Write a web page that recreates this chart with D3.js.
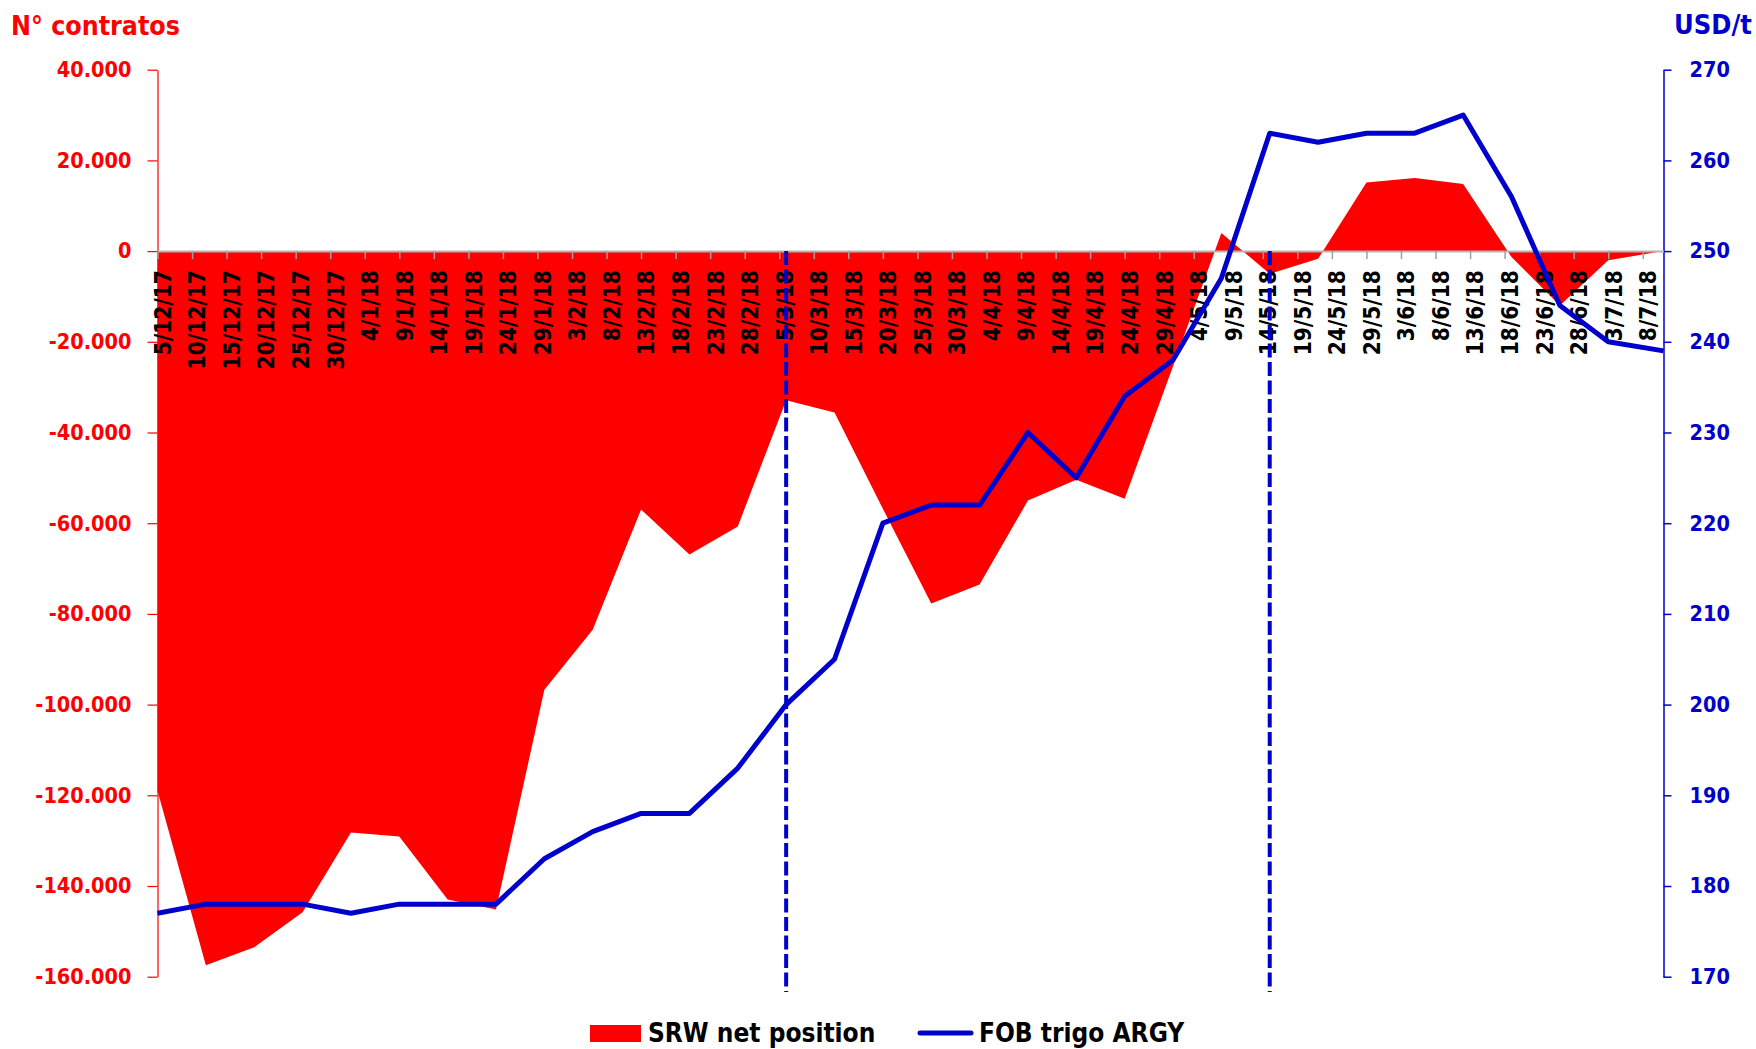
<!DOCTYPE html>
<html>
<head>
    <meta charset="utf-8">
    <title>SRW net position vs FOB trigo ARGY</title>
    <script src="https://d3js.org/d3.v7.min.js"></script>
    <style>
        body {
            margin: 0;
            background-color: #fff;
        }

        svg text {
            font-family: "DejaVu Sans Condensed", "DejaVu Sans", sans-serif;
            font-stretch: condensed;
            font-weight: bold;
        }
    </style>
</head>
<body>
    <svg width="1756" height="1049"></svg>

    <script>
        // weekly observation dates (last one is a Wednesday)
        var dates = [
            "2017-12-05", "2017-12-12", "2017-12-19", "2017-12-26",
            "2018-01-02", "2018-01-09", "2018-01-16", "2018-01-23", "2018-01-30",
            "2018-02-06", "2018-02-13", "2018-02-20", "2018-02-27",
            "2018-03-06", "2018-03-13", "2018-03-20", "2018-03-27",
            "2018-04-03", "2018-04-10", "2018-04-17", "2018-04-24",
            "2018-05-01", "2018-05-08", "2018-05-15", "2018-05-22", "2018-05-29",
            "2018-06-05", "2018-06-12", "2018-06-19", "2018-06-26",
            "2018-07-03", "2018-07-11"
        ];

        // SRW net position (n° contratos)
        var srwNet = [
            -119000, -157500, -153500, -145800,
            -128200, -129100, -143000, -145200, -96700,
            -83500, -57000, -66900, -60700,
            -32900, -35600, -56800, -77700,
            -73500, -55000, -50400, -54600,
            -25400, 4000, -5000, -1700, 15100,
            16100, 14800, -1300, -12000,
            -2000, 0
        ];

        // FOB trigo ARGY (USD/t)
        var fobArgy = [
            177, 178, 178, 178,
            177, 178, 178, 178, 183,
            186, 188, 188, 193,
            200, 205, 220, 222,
            222, 230, 225, 234,
            238, 247, 263, 262, 263,
            263, 265, 256, 244,
            240, 239
        ];

        // dashed reference lines
        var markerDates = ["2018-03-06", "2018-05-15"];

        var tickLabels = [
            "5/12/17", "10/12/17", "15/12/17", "20/12/17", "25/12/17", "30/12/17",
            "4/1/18", "9/1/18", "14/1/18", "19/1/18", "24/1/18", "29/1/18",
            "3/2/18", "8/2/18", "13/2/18", "18/2/18", "23/2/18", "28/2/18",
            "5/3/18", "10/3/18", "15/3/18", "20/3/18", "25/3/18", "30/3/18",
            "4/4/18", "9/4/18", "14/4/18", "19/4/18", "24/4/18", "29/4/18",
            "4/5/18", "9/5/18", "14/5/18", "19/5/18", "24/5/18", "29/5/18",
            "3/6/18", "8/6/18", "13/6/18", "18/6/18", "23/6/18", "28/6/18",
            "3/7/18", "8/7/18"
        ];

        var leftTicks = [40000, 20000, 0, -20000, -40000, -60000, -80000, -100000, -120000, -140000, -160000];
        var rightTicks = [270, 260, 250, 240, 230, 220, 210, 200, 190, 180, 170];

        var RED = "#ff0000";
        var BLUE = "#0000cc";

        var parseIso = d3.timeParse("%Y-%m-%d");
        var parseTick = d3.timeParse("%d/%m/%y");

        var data = dates.map(function(d, i) {
            return { date: parseIso(d), srw: srwNet[i], fob: fobArgy[i] };
        });

        // plot box (note: "top" is a reserved window property, so prefix names)
        var plotLeft = 157.5, plotRight = 1663.5, plotTop = 69.7, plotBottom = 976.7;

        var svg = d3.select("svg");

        var x = d3.scaleTime()
            .domain([parseIso("2017-12-05"), parseIso("2018-07-11")])
            .range([plotLeft, plotRight]);

        var yL = d3.scaleLinear().domain([-160000, 40000]).range([plotBottom, plotTop]);
        var yR = d3.scaleLinear().domain([170, 270]).range([plotBottom, plotTop]);

        var locale = d3.formatLocale({ decimal: ",", thousands: ".", grouping: [3], currency: ["", ""], minus: "-" });
        var fmt = locale.format(",");

        // red area (net position)
        var area = d3.area()
            .x(function(d) { return x(d.date); })
            .y0(yL(0))
            .y1(function(d) { return yL(d.srw); });

        svg.append("path")
            .datum(data)
            .attr("d", area)
            .attr("fill", RED);

        // left axis
        var gL = svg.append("g")
            .attr("transform", "translate(" + plotLeft + ",0)")
            .call(d3.axisLeft(yL).tickValues(leftTicks).tickFormat(fmt).tickSize(10).tickSizeOuter(0).tickPadding(16));
        gL.select(".domain").attr("stroke", RED).attr("stroke-width", 1.2);
        gL.selectAll(".tick line").attr("stroke", RED).attr("stroke-width", 1.2);
        gL.selectAll(".tick text").attr("fill", RED).style("font-size", "21.5px");

        // right axis
        var gR = svg.append("g")
            .attr("transform", "translate(" + plotRight + ",0)")
            .call(d3.axisRight(yR).tickValues(rightTicks).tickSize(8).tickSizeOuter(0).tickPadding(18));
        gR.select(".domain").attr("stroke", BLUE).attr("stroke-width", 1.5);
        gR.selectAll(".tick line").attr("stroke", BLUE).attr("stroke-width", 1.5);
        gR.selectAll(".tick text").attr("fill", BLUE).style("font-size", "21.5px");

        // date axis on the zero line
        var tickDates = tickLabels.map(function(t) { return parseTick(t); });
        var gX = svg.append("g")
            .attr("transform", "translate(0," + yL(0) + ")")
            .call(d3.axisBottom(x).tickValues(tickDates).tickSize(8).tickSizeOuter(0)
                .tickFormat(function(d, i) { return tickLabels[i]; }));
        gX.select(".domain").attr("stroke", "#b4b4b4").attr("stroke-width", 2);
        gX.selectAll(".tick line").attr("stroke", "#a0a0a0").attr("stroke-width", 1.5);
        gX.selectAll(".tick text")
            .attr("fill", "#000")
            .attr("x", 0)
            .attr("y", 0)
            .attr("dy", "0.35em")
            .attr("text-anchor", "end")
            .attr("transform", "translate(5,19) rotate(-90)")
            .style("font-size", "22.5px");

        // dashed vertical markers
        svg.selectAll(".marker")
            .data(markerDates)
            .enter().append("line")
            .attr("class", "marker")
            .attr("x1", function(d) { return x(parseIso(d)); })
            .attr("x2", function(d) { return x(parseIso(d)); })
            .attr("y1", yL(0))
            .attr("y2", 992)
            .attr("stroke", BLUE)
            .attr("stroke-width", 4)
            .attr("stroke-dasharray", "14,4.5");

        // blue line (FOB price)
        var line = d3.line()
            .x(function(d) { return x(d.date); })
            .y(function(d) { return yR(d.fob); });

        svg.append("path")
            .datum(data)
            .attr("d", line)
            .attr("fill", "none")
            .attr("stroke", BLUE)
            .attr("stroke-width", 5)
            .attr("stroke-linejoin", "round");

        // axis titles
        svg.append("text")
            .attr("x", 11)
            .attr("y", 35)
            .attr("fill", RED)
            .style("font-size", "26.5px")
            .text("N° contratos");

        svg.append("text")
            .attr("x", 1752)
            .attr("y", 34)
            .attr("text-anchor", "end")
            .attr("fill", BLUE)
            .style("font-size", "27px")
            .text("USD/t");

        // legend
        var legend = svg.append("g");
        legend.append("rect")
            .attr("x", 590).attr("y", 1025)
            .attr("width", 51).attr("height", 17)
            .attr("fill", RED);
        legend.append("text")
            .attr("x", 648).attr("y", 1042)
            .style("font-size", "26px")
            .text("SRW net position");
        legend.append("line")
            .attr("x1", 920).attr("x2", 971)
            .attr("y1", 1033).attr("y2", 1033)
            .attr("stroke", BLUE)
            .attr("stroke-width", 5)
            .attr("stroke-linecap", "round");
        legend.append("text")
            .attr("x", 979).attr("y", 1042)
            .style("font-size", "26px")
            .text("FOB trigo ARGY");
    </script>
</body>
</html>
